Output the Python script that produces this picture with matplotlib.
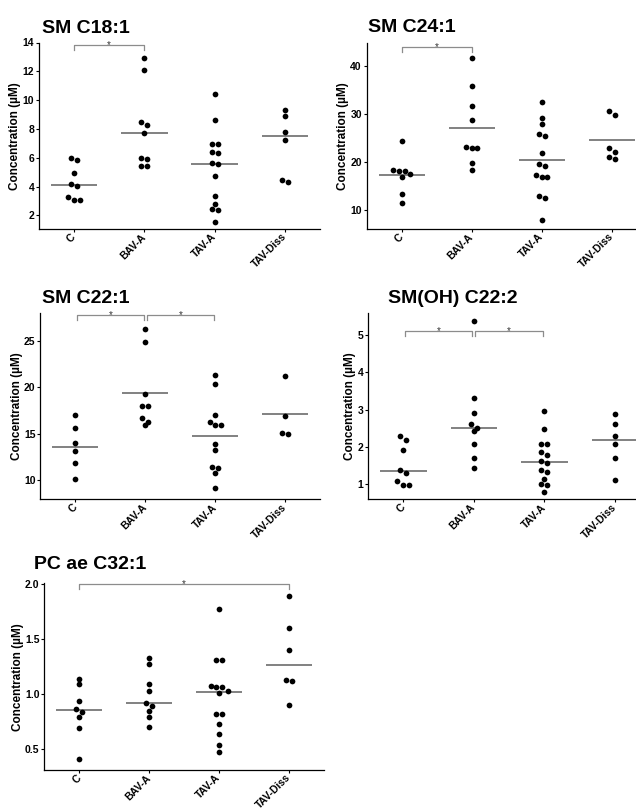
import numpy as np
import matplotlib.pyplot as plt

plt.rcParams['font.family'] = ['Liberation Sans', 'DejaVu Sans']

groups = ["C", "BAV-A", "TAV-A", "TAV-Diss"]

# ---- SM C18:1
c18_C = [6.0, 5.82, 4.92, 4.18, 4.04, 3.3, 3.04, 3.04]
c18_BAV = [12.89, 12.12, 8.51, 8.26, 7.75, 5.98, 5.94, 5.43, 5.43]
c18_TAV = [10.43, 8.63, 6.96, 6.96, 6.43, 6.33, 5.61, 5.55, 4.73, 3.34, 2.77, 2.42, 2.37, 1.51]
c18_Diss = [9.3, 8.88, 7.77, 7.21, 4.46, 4.32]
c18_center = [4.11, 7.75, 5.59, 7.51]

# ---- SM C24:1
c24_C = [24.3, 18.25, 18.2, 18.2, 17.4, 16.8, 13.3, 11.5]
c24_BAV = [41.7, 35.8, 31.7, 28.75, 23.06, 23.0, 23.0, 19.8, 18.26]
c24_TAV = [32.5, 29.17, 28.06, 25.83, 25.35, 21.94, 19.58, 19.1, 17.36, 16.94, 16.94, 12.85, 12.43, 7.78]
c24_Diss = [30.76, 29.75, 22.95, 22.15, 21.1, 20.56]
c24_center = [17.3, 27.2, 20.35, 24.58]

# ---- SM C22:1
c22_C = [17.02, 15.62, 14.01, 13.12, 11.9, 10.18]
c22_BAV = [26.25, 24.86, 19.28, 17.95, 17.95, 16.73, 16.3, 15.91]
c22_TAV = [21.3, 20.3, 16.98, 16.23, 15.94, 15.94, 13.94, 13.22, 11.43, 11.32, 10.79, 9.18]
c22_Diss = [21.24, 16.94, 15.08, 15.01]
c22_center = [13.6, 19.4, 14.75, 17.09]

# ---- SM(OH) C22:2
oh_C = [2.3, 2.18, 1.92, 1.375, 1.31, 1.09, 0.99, 0.99]
oh_BAV = [5.39, 3.31, 2.91, 2.63, 2.52, 2.42, 2.09, 1.7, 1.45]
oh_TAV = [2.97, 2.48, 2.09, 2.08, 1.86, 1.79, 1.63, 1.58, 1.38, 1.33, 1.14, 1.0, 0.97, 0.8]
oh_Diss = [2.88, 2.63, 2.3, 2.09, 1.7, 1.11]
oh_center = [1.35, 2.52, 1.6, 2.2]

# ---- PC ae C32:1
pc_C = [1.133, 1.087, 0.935, 0.859, 0.838, 0.792, 0.691, 0.402]
pc_BAV = [1.327, 1.273, 1.09, 1.03, 0.92, 0.89, 0.848, 0.786, 0.698]
pc_TAV = [1.778, 1.309, 1.309, 1.072, 1.063, 1.06, 1.03, 1.01, 0.82, 0.815, 0.725, 0.637, 0.537, 0.473]
pc_Diss = [1.894, 1.599, 1.398, 1.127, 1.118, 0.902]
pc_center = [0.85, 0.917, 1.02, 1.261]

# significance brackets: (from group, to group)
c18_sig = [(0, 1)]
c24_sig = [(0, 1)]
c22_sig = [(0, 1), (1, 2)]
oh_sig = [(0, 1), (1, 2)]
pc_sig = [(0, 3)]

W, H = 636, 810


def px_box(left, right, top, bottom):
    return [left / W, 1 - bottom / H, (right - left) / W, (bottom - top) / H]


def swarm_offsets(vals, ax, step=0.082, thr=5.0):
    """ spread near-equal values side by side, rows centred on the group """
    vals = np.asarray(vals, dtype=float)
    ypx = ax.transData.transform(np.column_stack([np.zeros(len(vals)), vals]))[:, 1]
    order = np.argsort(-ypx, kind="stable")
    offs = np.zeros(len(vals))
    rows, cur = [], [order[0]]
    for i in order[1:]:
        if ypx[cur[0]] - ypx[i] < thr:
            cur.append(i)
        else:
            rows.append(cur)
            cur = [i]
    rows.append(cur)
    for row in rows:
        k = len(row)
        for j, idx in enumerate(row):
            offs[idx] = (j - (k - 1) / 2.0) * step
    return offs


def make_panel(fig, box, xmax, series, centers, ylim, yticks, sig, sig_y, sig_drop, title, title_xy):
    ax = fig.add_axes(box)
    ax.set_xlim(-0.5, xmax)
    ax.set_ylim(*ylim)
    for gi, vals in enumerate(series):
        offs = swarm_offsets(vals, ax)
        ax.scatter(gi + offs, vals, s=17, color="black", zorder=3, linewidths=0)
        ax.hlines(centers[gi], gi - 0.33, gi + 0.33, color="#777777", lw=1.3, zorder=2)
    for (a, b) in sig:
        x0, x1 = a, b
        if len(sig) > 1:
            x0, x1 = a + 0.02, b - 0.02
        ax.plot([x0, x0, x1, x1], [sig_y - sig_drop, sig_y, sig_y, sig_y - sig_drop],
                color="#8c8c8c", lw=0.9, clip_on=False)
        # star glyph sits high in its box, so anchor on the baseline just under the line
        ax.annotate("*", xy=((a + b) / 2.0, sig_y), xytext=(0, -2.0),
                    textcoords="offset points", ha="center", va="baseline",
                    fontsize=7, color="#333333", annotation_clip=False)
    ax.set_yticks(yticks)
    ax.set_xticks(range(len(groups)))
    ax.set_xticklabels(groups, rotation=45, ha="right", va="center",
                       rotation_mode="anchor", fontsize=7.5, fontweight="bold")
    for lab in ax.get_yticklabels():
        lab.set_fontsize(7.5)
        lab.set_fontweight("bold")
    ax.tick_params(axis="y", length=2.5, width=0.8, pad=1)
    ax.tick_params(axis="x", length=2, width=0.8, pad=2.5)
    ax.spines["top"].set_visible(False)
    ax.spines["right"].set_visible(False)
    ax.spines["left"].set_linewidth(0.9)
    ax.spines["bottom"].set_linewidth(0.9)
    ax.set_ylabel("Concentration (\u00b5M)", fontsize=8.5, fontweight="semibold", labelpad=1)
    fig.text(title_xy[0] / W, 1 - title_xy[1] / H, title, fontsize=14,
             fontweight="bold", ha="left", va="baseline")
    return ax


fig = plt.figure(figsize=(6.36, 8.1), dpi=100)

make_panel(fig, px_box(39, 320, 42.5, 229), 3.5,
           [c18_C, c18_BAV, c18_TAV, c18_Diss], c18_center,
           (1.05, 14.0), [2, 4, 6, 8, 10, 12, 14],
           c18_sig, 13.8, 0.3, "SM C18:1", (42, 33))

make_panel(fig, px_box(366.7, 636, 42.5, 229), 3.347,
           [c24_C, c24_BAV, c24_TAV, c24_Diss], c24_center,
           (6.0, 45.0), [10, 20, 30, 40],
           c24_sig, 44.0, 0.9, "SM C24:1", (368, 32.5))

make_panel(fig, px_box(40.3, 320.3, 312.7, 499.3), 3.5,
           [c22_C, c22_BAV, c22_TAV, c22_Diss], c22_center,
           (7.96, 28.0), [10, 15, 20, 25],
           c22_sig, 27.7, 0.45, "SM C22:1", (42, 303.3))

make_panel(fig, px_box(368, 636, 312.7, 499.3), 3.30,
           [oh_C, oh_BAV, oh_TAV, oh_Diss], oh_center,
           (0.6, 5.6), [1, 2, 3, 4, 5],
           oh_sig, 5.1, 0.12, "SM(OH) C22:2", (388, 303))

make_panel(fig, px_box(44.3, 324, 583.3, 770), 3.5,
           [pc_C, pc_BAV, pc_TAV, pc_Diss], pc_center,
           (0.305, 2.01), [0.5, 1.0, 1.5, 2.0],
           pc_sig, 2.0, 0.045, "PC ae C32:1", (33.5, 569))

fig.savefig("out.png", dpi=100)
